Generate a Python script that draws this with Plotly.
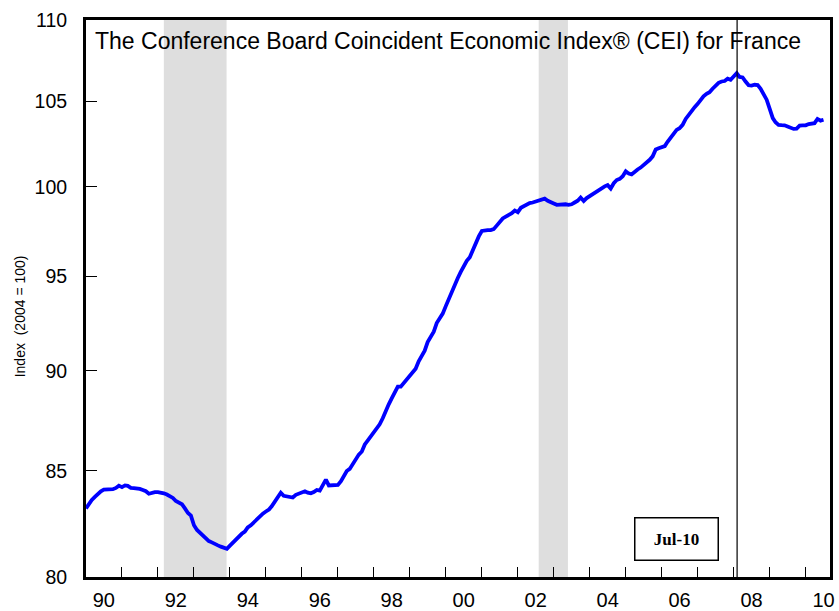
import numpy as np
import pandas as pd
import plotly.graph_objects as go

# Monthly CEI values (2004 = 100), Jan 1990 .. Jul 2010
v1990 = [83.2, 83.45, 83.6, 83.75, 83.9, 84.02, 84.1, 84.1, 84.1, 84.12, 84.18, 84.29]
v1991 = [84.22, 84.3, 84.28, 84.18, 84.17, 84.16, 84.13, 84.08, 84.02, 83.9, 83.95, 83.98]
v1992 = [83.98, 83.97, 83.92, 83.86, 83.78, 83.7, 83.55, 83.48, 83.4, 83.2, 82.98, 82.86]
v1993 = [82.4, 82.18, 82.05, 81.92, 81.8, 81.66, 81.6, 81.55, 81.46, 81.4, 81.36, 81.3]
v1994 = [81.45, 81.6, 81.7, 81.85, 82.0, 82.1, 82.3, 82.4, 82.55, 82.68, 82.8, 82.95]
v1995 = [83.05, 83.15, 83.3, 83.5, 83.7, 83.95, 83.8, 83.78, 83.78, 83.72, 83.85, 83.9]
v1996 = [83.95, 84.02, 83.95, 83.92, 83.98, 84.08, 84.05, 84.35, 84.58, 84.3, 84.3, 84.3]
v1997 = [84.32, 84.5, 84.75, 85.0, 85.1, 85.35, 85.55, 85.8, 85.95, 86.3, 86.5, 86.7]
v1998 = [86.87, 87.05, 87.3, 87.6, 88.0, 88.3, 88.6, 88.9, 89.2, 89.2, 89.4, 89.55]
v1999 = [89.75, 89.95, 90.12, 90.5, 90.8, 91.05, 91.5, 91.8, 92.05, 92.5, 92.75, 93.0]
v2000 = [93.4, 93.8, 94.2, 94.5, 94.9, 95.25, 95.6, 95.85, 96.05, 96.45, 96.85, 97.2]
v2001 = [97.5, 97.55, 97.55, 97.55, 97.6, 97.8, 98.0, 98.2, 98.3, 98.38, 98.5, 98.65]
v2002 = [98.55, 98.8, 98.9, 99.0, 99.07, 99.1, 99.15, 99.2, 99.25, 99.32, 99.2, 99.1]
v2003 = [99.05, 98.97, 98.98, 99.04, 99.0, 98.97, 99.0, 99.1, 99.2, 99.38, 99.19, 99.35]
v2004 = [99.47, 99.6, 99.71, 99.82, 99.94, 100.02, 100.09, 99.9, 100.2, 100.38, 100.45, 100.6]
v2005 = [100.89, 100.75, 100.7, 100.88, 100.99, 101.1, 101.24, 101.4, 101.55, 101.75, 102.15, 102.22]
v2006 = [102.27, 102.35, 102.6, 102.85, 103.05, 103.3, 103.4, 103.6, 103.95, 104.2, 104.45, 104.65]
v2007 = [104.85, 105.1, 105.3, 105.45, 105.55, 105.76, 105.95, 106.12, 106.2, 106.23, 106.37, 106.3]
v2008 = [106.5, 106.7, 106.48, 106.45, 106.2, 105.97, 105.95, 106.0, 105.98, 105.76, 105.42, 105.1]
v2009 = [104.55, 104.0, 103.75, 103.6, 103.58, 103.57, 103.5, 103.45, 103.36, 103.38, 103.55, 103.57]
v2010 = [103.57, 103.65, 103.7, 103.7, 103.95, 103.85, 103.9]

values = (v1990 + v1991 + v1992 + v1993 + v1994 + v1995 + v1996 + v1997 + v1998 + v1999
          + v2000 + v2001 + v2002 + v2003 + v2004 + v2005 + v2006 + v2007 + v2008 + v2009 + v2010)
dates = pd.date_range("1990-01-01", periods=len(values), freq="MS")

recession_starts = ["1992-03-01", "2002-08-01"]
recession_ends = ["1993-11-28", "2003-05-25"]
marker_date = "2008-02-05"

y_ticks = [80, 85, 90, 95, 100, 105, 110]
year_ticks = [f"{y}-01-01" for y in range(1990, 2011)]
label_pos = [f"{y}-07-01" for y in range(1990, 2011, 2)]
label_text = ["90", "92", "94", "96", "98", "00", "02", "04", "06", "08", "10"]
x_range = ["1990-01-01", "2010-09-05"]

title_text = "The Conference Board Coincident Economic Index® (CEI) for France"
y_title = "Index  (2004 = 100)"
date_box = "Jul-10"

fig = go.Figure()
fig.add_trace(go.Scatter(x=dates, y=values, mode="lines",
                         line=dict(color="#0000ff", width=3.8),
                         hoverinfo="skip", showlegend=False))
fig.add_trace(go.Scatter(x=dates, y=values, mode="lines", xaxis="x2",
                         line=dict(color="rgba(0,0,0,0)", width=0),
                         hoverinfo="skip", showlegend=False))

shapes = []
for s, e in zip(recession_starts, recession_ends):
    shapes.append(dict(type="rect", xref="x", yref="paper", x0=s, x1=e, y0=0, y1=1,
                       fillcolor="#dedede", line=dict(width=0), layer="below"))
shapes.append(dict(type="line", xref="x", yref="paper", x0=marker_date, x1=marker_date,
                   y0=0, y1=1, line=dict(color="black", width=1.2), layer="above"))

font_sans = "Liberation Sans, Arial, sans-serif"

fig.update_layout(
    width=839, height=611,
    margin=dict(l=86, r=9, t=20, b=34, autoexpand=False),
    paper_bgcolor="white", plot_bgcolor="white",
    shapes=shapes,
    xaxis=dict(type="date", range=x_range, tickmode="array", tickvals=year_ticks,
               ticktext=["" for _ in year_ticks], ticks="inside", ticklen=10,
               tickwidth=1.2, tickcolor="black", showgrid=False, zeroline=False,
               showline=True, linecolor="black", linewidth=3, mirror=True),
    xaxis2=dict(type="date", overlaying="x", side="bottom", range=x_range,
                tickmode="array", tickvals=label_pos, ticktext=label_text,
                ticks="", showgrid=False, zeroline=False, showline=False,
                ticklabelstandoff=9,
                tickfont=dict(family=font_sans, size=20, color="black")),
    yaxis=dict(type="log", range=[np.log10(80), np.log10(110)], tickmode="array",
               tickvals=y_ticks, ticktext=[str(t) for t in y_ticks],
               ticks="inside", ticklen=11, tickwidth=1.2, tickcolor="black",
               showgrid=False, zeroline=False, showline=True, linecolor="black",
               linewidth=3, mirror=True, ticklabelstandoff=12,
               tickfont=dict(family=font_sans, size=19.5, color="black")),
    annotations=[
        dict(text=title_text, xref="paper", yref="paper", x=0.0094, y=0.963,
             xanchor="left", yanchor="middle", showarrow=False,
             font=dict(family=font_sans, size=23, color="black")),
        dict(text=y_title, xref="paper", yref="paper", x=-0.0887, y=0.468,
             xanchor="center", yanchor="middle", textangle=-90, showarrow=False,
             font=dict(family=font_sans, size=14, color="black")),
        dict(text="<b>" + date_box + "</b>", xref="paper", yref="paper", x=0.794, y=0.069,
             xanchor="center", yanchor="middle", showarrow=False,
             width=78, height=37, borderpad=2, bordercolor="black", borderwidth=1.5,
             bgcolor="white",
             font=dict(family="Liberation Serif, Times New Roman, serif", size=17, color="black")),
    ],
)

fig.write_html("out.html", config={"displayModeBar": False},
               post_script="document.body.style.margin='0';document.body.style.overflow='hidden';")
